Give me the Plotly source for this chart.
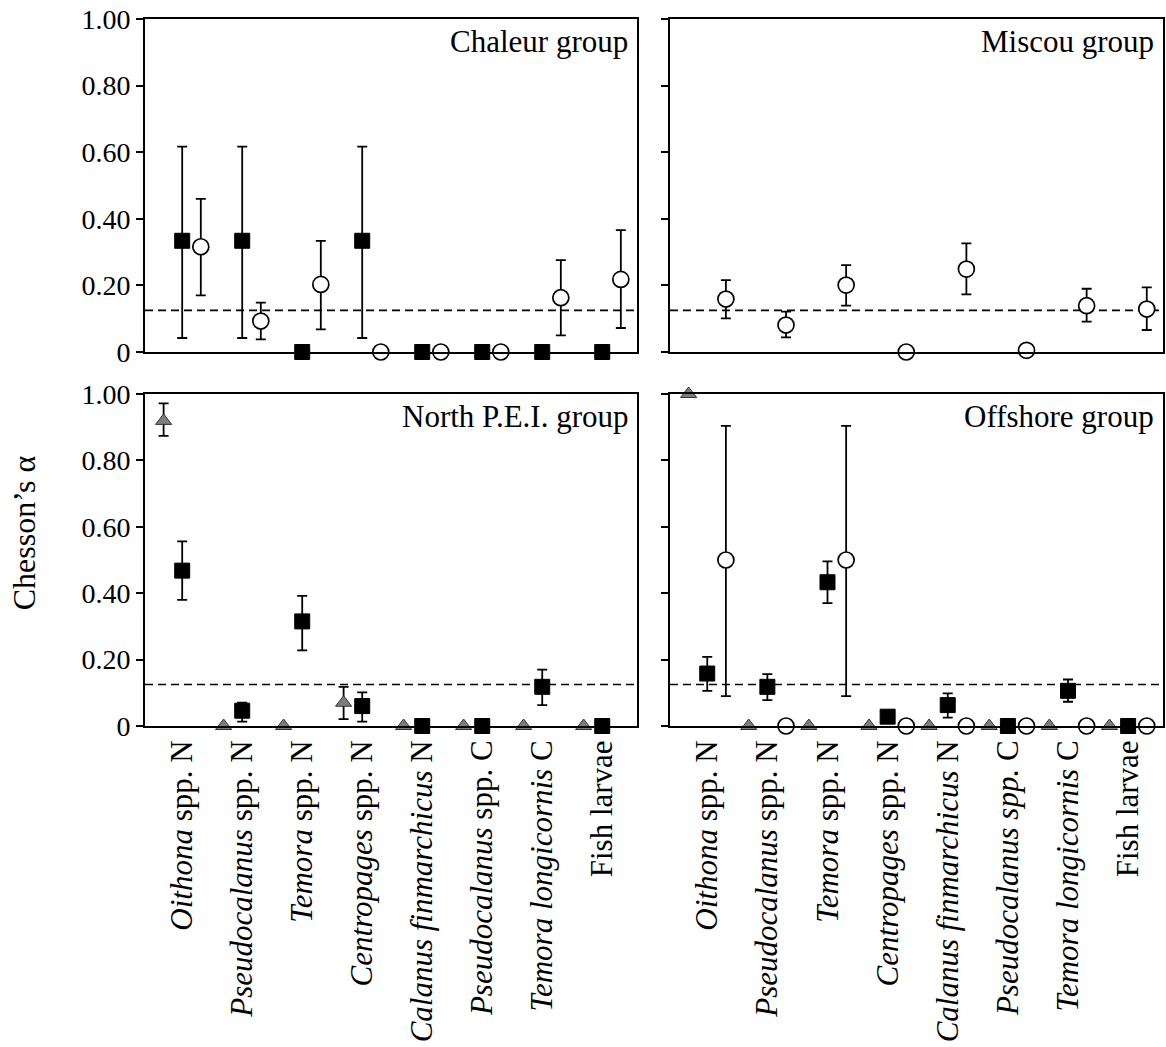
import plotly.graph_objects as go

# ---------------- data ----------------
categories = [
    "<i>Oithona</i> spp. N",
    "<i>Pseudocalanus</i> spp. N",
    "<i>Temora</i> spp. N",
    "<i>Centropages</i> spp. N",
    "<i>Calanus finmarchicus</i> N",
    "<i>Pseudocalanus</i> spp. C",
    "<i>Temora longicornis</i> C",
    "Fish larvae",
]
categories_right = [
    "<i>Oithona</i> spp. N",
    "<i>Pseudocalanus</i> spp. N",
    "<i>Temora</i> spp. N",
    "<i>Centropages</i> spp. N",
    "<i>Calanus finmarchicus</i> N",
    "<i>Pseudocalanus spp.</i> C",
    "<i>Temora longicornis</i> C",
    "Fish larvae",
]
panel_titles = ["Chaleur group", "Miscou group", "North P.E.I. group", "Offshore group"]
ytick_vals = [0, 0.2, 0.4, 0.6, 0.8, 1.0]
ytick_text = ["0", "0.20", "0.40", "0.60", "0.80", "1.00"]
neutral_alpha = 0.125  # 1 / number of prey types

# Chaleur group
chaleur_sq = [0.334, 0.334, 0, 0.334, 0, 0, 0, 0]
chaleur_sq_hi = [0.617, 0.617, None, 0.617, None, None, None, None]
chaleur_sq_lo = [0.042, 0.042, None, 0.042, None, None, None, None]
chaleur_ci = [0.316, 0.093, 0.203, 0, 0, 0, 0.163, 0.218]
chaleur_ci_hi = [0.46, 0.148, 0.334, None, None, None, 0.276, 0.366]
chaleur_ci_lo = [0.17, 0.038, 0.068, None, None, None, 0.05, 0.072]

# Miscou group
miscou_ci = [0.159, 0.081, 0.201, 0, 0.249, 0.005, 0.139, 0.129]
miscou_ci_hi = [0.216, 0.121, 0.261, None, 0.326, None, 0.19, 0.194]
miscou_ci_lo = [0.101, 0.044, 0.139, None, 0.173, None, 0.091, 0.066]

# North P.E.I. group
pei_tri = [0.919, 0, 0, 0.07, 0, 0, 0, 0]
pei_tri_hi = [0.972, None, None, 0.118, None, None, None, None]
pei_tri_lo = [0.874, None, None, 0.021, None, None, None, None]
pei_sq = [0.468, 0.046, 0.315, 0.06, 0, 0, 0.118, 0]
pei_sq_hi = [0.556, 0.07, 0.392, 0.101, None, None, 0.17, None]
pei_sq_lo = [0.38, 0.013, 0.228, 0.013, None, None, 0.063, None]

# Offshore group
off_tri = [1.0, 0, 0, 0, 0, 0, 0, 0]
off_tri_hi = [None] * 8
off_tri_lo = [None] * 8
off_sq = [0.158, 0.118, 0.433, 0.028, 0.063, 0, 0.106, 0]
off_sq_hi = [0.208, 0.156, 0.496, None, 0.098, None, 0.14, None]
off_sq_lo = [0.106, 0.078, 0.37, None, 0.025, None, 0.073, None]
off_ci = [0.5, 0, 0.5, 0, 0, 0, 0, 0]
off_ci_hi = [0.904, None, 0.904, None, None, None, None, None]
off_ci_lo = [0.09, None, 0.09, None, None, None, None, None]

# ---------------- styles ----------------
FONT = "Liberation Serif"
OFFSETS = {"tri": -0.31, "sq": 0.0, "ci": 0.31}
MARKERS = {
    "tri": dict(symbol="triangle-up", size=14, color="#7d7d7d", line=dict(color="#333333", width=1)),
    "sq": dict(symbol="square", size=15, color="black", line=dict(color="black", width=1)),
    "ci": dict(symbol="circle", size=16, color="white", line=dict(color="black", width=1.7)),
}

fig = go.Figure()


def add_series(kind, vals, hi, lo, xa, ya):
    xs = [i + OFFSETS[kind] for i in range(len(vals))]
    # error bars (only where available), drawn underneath the markers
    ex, ey, eup, edn = [], [], [], []
    for x, v, h, l in zip(xs, vals, hi, lo):
        if h is not None and l is not None:
            ex.append(x)
            ey.append(v)
            eup.append(h - v)
            edn.append(v - l)
    if ex:
        fig.add_trace(go.Scatter(
            x=ex, y=ey, mode="markers", xaxis=xa, yaxis=ya,
            marker=dict(size=1, opacity=0), showlegend=False, hoverinfo="skip",
            cliponaxis=False,
            error_y=dict(type="data", symmetric=False, array=eup, arrayminus=edn,
                         color="black", thickness=1.8, width=5),
        ))
    fig.add_trace(go.Scatter(
        x=xs, y=vals, mode="markers", xaxis=xa, yaxis=ya,
        marker=MARKERS[kind], showlegend=False, cliponaxis=False,
    ))


add_series("sq", chaleur_sq, chaleur_sq_hi, chaleur_sq_lo, "x", "y")
add_series("ci", chaleur_ci, chaleur_ci_hi, chaleur_ci_lo, "x", "y")
add_series("ci", miscou_ci, miscou_ci_hi, miscou_ci_lo, "x2", "y2")
add_series("tri", pei_tri, pei_tri_hi, pei_tri_lo, "x3", "y3")
add_series("sq", pei_sq, pei_sq_hi, pei_sq_lo, "x3", "y3")
add_series("tri", off_tri, off_tri_hi, off_tri_lo, "x4", "y4")
add_series("sq", off_sq, off_sq_hi, off_sq_lo, "x4", "y4")
add_series("ci", off_ci, off_ci_hi, off_ci_lo, "x4", "y4")

W, H = 1166, 1047
ml, mr, mt, mb = 145, 1, 19, 321
pw, ph = W - ml - mr, H - mt - mb


def px_x(p):
    return (p - ml) / pw


def px_y(p):
    return (H - mb - p) / ph


xdom_l = [0, px_x(638)]
xdom_r = [px_x(671), 1]
ydom_t = [px_y(352), 1]
ydom_b = [0, px_y(394)]
xrange_ = [-0.62, 7.58]

axis_common = dict(showline=True, mirror=True, linecolor="black", linewidth=2,
                   showgrid=False, zeroline=False)

layout = dict(
    width=W, height=H,
    margin=dict(l=ml, r=mr, t=mt, b=mb),
    paper_bgcolor="white", plot_bgcolor="white",
    font=dict(family=FONT, color="black"),
    showlegend=False,
)

specs = [
    ("", xdom_l, ydom_t, False, True, categories),
    ("2", xdom_r, ydom_t, False, False, categories_right),
    ("3", xdom_l, ydom_b, True, True, categories),
    ("4", xdom_r, ydom_b, True, False, categories_right),
]
for suf, xd, yd, show_x, show_y, cats in specs:
    layout["xaxis" + suf] = dict(
        domain=xd, range=xrange_, anchor="y" + suf, ticks="",
        tickmode="array", tickvals=list(range(len(cats))), ticktext=cats,
        showticklabels=show_x, tickangle=-90,
        tickfont=dict(size=31, family=FONT, color="black"),
        **axis_common)
    layout["yaxis" + suf] = dict(
        domain=yd, range=[0, 1.0], anchor="x" + suf,
        ticks="outside", ticklen=7, tickwidth=1.5, tickcolor="black",
        tickmode="array", tickvals=ytick_vals, ticktext=ytick_text,
        showticklabels=show_y,
        tickfont=dict(size=28, family=FONT, color="black"),
        **axis_common)

fig.update_layout(**layout)

# dashed neutral-selection lines
for suf in ["", "2", "3", "4"]:
    xa = "x" + suf
    ya = "y" + suf
    fig.add_shape(type="line", xref=xa + " domain", yref=ya,
                  x0=0, x1=1, y0=neutral_alpha, y1=neutral_alpha,
                  line=dict(color="black", width=1.6, dash="8px,5px"), layer="below")

# panel titles
for suf, title in zip(["", "2", "3", "4"], panel_titles):
    fig.add_annotation(text=title, xref=("x" + suf) + " domain", yref=("y" + suf) + " domain",
                       x=0.985, y=1.0, xanchor="right", yanchor="top", yshift=-3,
                       showarrow=False, font=dict(size=31, family=FONT, color="black"))

# y-axis title
fig.add_annotation(text="Chesson’s α", xref="paper", yref="paper",
                   x=px_x(24), y=px_y(533), xanchor="center", yanchor="middle",
                   textangle=-90, showarrow=False,
                   font=dict(size=32, family=FONT, color="black"))

fig.write_html("out.html")
